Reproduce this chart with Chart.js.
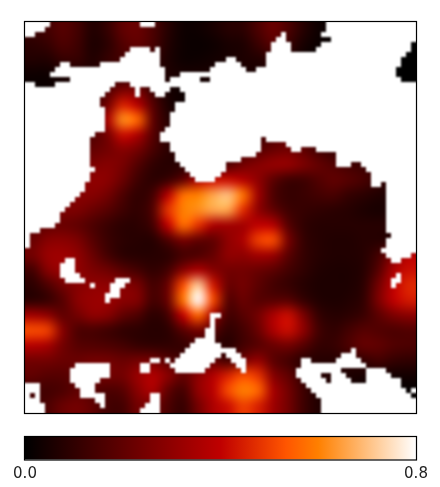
<!DOCTYPE html>
<html lang="en">

<head>
    <meta charset="UTF-8" />
    <title>Heatmap</title>
    <script src="https://cdn.jsdelivr.net/npm/chart.js"></script>
    <style>
        html, body { margin: 0; padding: 0; background: #fff; }
        canvas { position: absolute; left: 0; }
        #heat { top: 0; }
        #bar { top: 425px; }
    </style>
</head>

<body>
    <canvas id="heat" width="440" height="425"></canvas>
    <canvas id="bar" width="440" height="62"></canvas>

    <script>
        // values, 26 x 26, top row first
        var row00 = [.12,.14,.18,.14,.07,.11,.20,.22,.16,.08,.03,.03,.05,.08,.09,.16,.22,.16,.08,.03,.02,.02,.02,0,0,0];
        var row01 = [.09,.11,.16,.13,.06,.09,.17,.20,.15,.07,.03,.02,.03,.05,.06,.12,.18,.12,.05,.02,.01,.01,0,0,0,0];
        var row02 = [.07,.07,.11,.11,.07,.11,.14,.14,.11,.06,.03,.03,.04,.05,.06,.07,.09,.06,.03,.01,0,0,0,0,0,0];
        var row03 = [.03,.03,.05,.06,.07,.09,.11,.09,.07,.06,.05,.05,.05,.05,.05,.05,.05,.04,.02,.01,0,0,0,0,0,0];
        var row04 = [.02,.02,.04,.06,.10,.17,.25,.24,.12,.05,.03,.02,.03,.03,.03,.03,.03,.03,.02,.01,0,0,0,0,0,0];
        var row05 = [.03,.03,.04,.07,.13,.24,.45,.38,.18,.06,.03,.03,.03,.03,.03,.03,.03,.03,.03,.03,.03,.03,.03,.03,.03,.03];
        var row06 = [.06,.06,.06,.09,.15,.36,.62,.56,.20,.08,.05,.05,.06,.06,.06,.06,.07,.07,.06,.06,.06,.06,.06,.06,.06,.06];
        var row07 = [.12,.12,.12,.14,.17,.25,.42,.36,.18,.09,.07,.07,.07,.08,.10,.12,.16,.18,.16,.12,.10,.08,.07,.07,.07,.07];
        var row08 = [.18,.18,.18,.20,.21,.24,.28,.24,.15,.09,.09,.09,.10,.12,.15,.18,.22,.24,.20,.14,.11,.10,.08,.07,.07,.07];
        var row09 = [.24,.24,.24,.24,.26,.28,.25,.17,.10,.08,.09,.10,.13,.17,.24,.28,.31,.31,.26,.21,.17,.14,.12,.10,.08,.06];
        var row10 = [.24,.24,.24,.26,.30,.29,.22,.13,.09,.12,.20,.36,.42,.42,.38,.30,.19,.13,.13,.17,.20,.18,.15,.11,.07,.06];
        var row11 = [.24,.24,.24,.28,.28,.24,.16,.10,.14,.38,.57,.60,.66,.70,.58,.33,.16,.11,.12,.14,.15,.11,.09,.07,.06,.06];
        var row12 = [.24,.24,.26,.26,.22,.18,.13,.10,.17,.48,.60,.62,.66,.66,.47,.30,.20,.13,.11,.10,.09,.08,.06,.05,.06,.06];
        var row13 = [.18,.21,.22,.20,.16,.12,.09,.09,.14,.40,.57,.48,.36,.34,.34,.40,.38,.18,.10,.08,.08,.08,.08,.08,.08,.08];
        var row14 = [.22,.28,.29,.26,.18,.12,.09,.08,.08,.16,.25,.20,.20,.30,.36,.50,.52,.25,.11,.08,.07,.07,.08,.08,.08,.14];
        var row15 = [.24,.32,.33,.30,.22,.14,.09,.08,.08,.09,.14,.16,.21,.30,.30,.34,.32,.19,.11,.08,.07,.07,.08,.14,.27,.38];
        var row16 = [.14,.28,.32,.30,.26,.23,.18,.14,.10,.14,.28,.36,.28,.24,.24,.22,.19,.14,.10,.07,.06,.06,.08,.18,.36,.42];
        var row17 = [.09,.16,.24,.28,.30,.30,.28,.25,.14,.22,.52,.72,.44,.22,.24,.19,.14,.11,.08,.06,.06,.06,.09,.24,.40,.46];
        var row18 = [.09,.11,.18,.29,.32,.32,.29,.27,.14,.22,.58,.80,.52,.18,.22,.18,.18,.18,.11,.07,.06,.07,.10,.26,.40,.44];
        var row19 = [.34,.30,.20,.24,.30,.28,.20,.16,.09,.14,.40,.56,.34,.14,.18,.24,.36,.42,.26,.11,.08,.09,.12,.19,.26,.29];
        var row20 = [.52,.50,.28,.16,.15,.13,.10,.09,.08,.09,.18,.24,.18,.10,.14,.22,.36,.42,.30,.14,.10,.14,.18,.17,.16,.17];
        var row21 = [.38,.35,.24,.18,.17,.16,.14,.11,.10,.10,.11,.14,.11,.08,.14,.18,.22,.24,.18,.11,.11,.16,.21,.20,.17,.16];
        var row22 = [.24,.24,.22,.22,.24,.24,.22,.24,.24,.18,.14,.14,.20,.14,.24,.31,.19,.14,.09,.08,.08,.09,.11,.14,.11,.10];
        var row23 = [.20,.18,.18,.20,.24,.24,.24,.32,.37,.29,.20,.29,.37,.45,.52,.48,.28,.20,.11,.08,.07,.06,.05,.05,.04,.04];
        var row24 = [.14,.14,.16,.20,.18,.16,.18,.29,.36,.20,.14,.30,.39,.52,.60,.56,.35,.24,.13,.07,.06,.05,.03,.02,.01,.01];
        var row25 = [.14,.16,.22,.24,.20,.14,.14,.24,.24,.16,.11,.24,.36,.42,.50,.45,.33,.24,.13,.07,.06,.05,.03,.02,.01,.01];
        var heatRows = [row00, row01, row02, row03, row04, row05, row06, row07, row08, row09, row10, row11, row12,
            row13, row14, row15, row16, row17, row18, row19, row20, row21, row22, row23, row24, row25];

        // blank (no data) cells on a 78 x 78 grid, [row, from, to)
        var blankCells = [
            [0,0,5],[0,23,26],[0,60,78],[1,0,4],[1,60,78],[2,0,2],[2,51,52],[2,59,78],[3,50,52],[3,61,78],
            [4,49,53],[4,59,77],[5,21,25],[5,26,27],[5,49,53],[5,58,77],[6,20,27],[6,48,76],
            [7,19,27],[7,40,42],[7,48,75],[8,7,9],[8,15,27],[8,38,43],[8,48,75],
            [9,6,28],[9,37,44],[9,46,74],[10,5,28],[10,31,74],[11,9,28],[11,29,35],[11,37,75],
            [12,0,2],[12,6,18],[12,21,78],[13,0,17],[13,22,23],[13,25,29],[13,31,78],
            [14,0,16],[14,22,23],[14,26,28],[14,32,78],[15,0,15],[15,32,78],[16,0,15],[16,30,78],
            [17,0,16],[17,30,78],[18,0,16],[18,29,78],[19,0,16],[19,29,78],[20,0,16],[20,29,78],
            [21,0,16],[21,28,78],[22,0,14],[22,27,78],[23,0,13],[23,27,47],[23,48,78],
            [24,0,13],[24,29,47],[24,52,78],[25,0,13],[25,29,47],[25,53,55],[25,58,78],
            [26,0,13],[26,30,46],[26,62,78],[27,0,13],[27,30,43],[27,62,78],
            [28,0,13],[28,31,40],[28,62,65],[28,67,78],[29,0,14],[29,32,40],[29,68,78],
            [30,0,13],[30,33,39],[30,69,78],[31,0,13],[31,34,38],[31,69,78],
            [32,0,12],[32,69,71],[32,72,78],[33,0,12],[33,72,78],[34,0,11],[34,72,78],
            [35,0,10],[35,72,78],[36,0,9],[36,72,78],[37,0,8],[37,72,78],[38,0,7],[38,72,78],
            [39,0,7],[39,72,78],[40,0,6],[40,72,78],[41,0,3],[41,72,78],[42,0,1],[42,73,78],
            [43,0,1],[43,72,78],[44,0,1],[44,72,78],[45,71,78],[46,72,77],[47,73,75],[47,8,10],
            [48,7,10],[49,7,10],[50,7,11],[50,74,75],[51,8,12],[51,18,21],[51,73,75],
            [52,13,14],[52,17,20],[52,73,74],[53,17,19],[54,16,19],[55,16,17],
            [58,37,39],[59,37,38],[60,37,38],[61,36,38],[62,36,38],[63,34,38],[64,33,39],
            [65,32,42],[65,65,66],[66,31,39],[66,40,43],[66,63,66],
            [67,25,27],[67,28,29],[67,30,38],[67,41,44],[67,55,57],[67,62,67],
            [68,10,17],[68,23,25],[68,29,37],[68,42,44],[68,55,68],
            [69,9,17],[69,23,25],[69,30,36],[69,43,44],[69,54,63],[69,68,72],
            [70,9,17],[70,54,59],[70,61,64],[70,68,73],[71,9,15],[71,55,60],[71,61,65],[71,68,75],
            [72,0,3],[72,10,14],[72,56,75],[73,0,3],[73,11,14],[73,57,76],[73,77,78],
            [74,0,1],[74,2,3],[74,11,16],[74,25,27],[74,58,77],
            [75,0,3],[75,14,16],[75,25,27],[75,59,78],[76,0,4],[76,15,16],[76,24,27],[76,59,78],
            [77,0,4],[77,23,27],[77,59,78]
        ];

        var maskSize = 78;
        var colorbarMax = [0.8];
        var colorbarTicks = [0, 0.8];

        // colour map stops: position, r, g, b
        var cmapPos = [0, 0.5, 0.667, 0.75, 1];
        var cmapRgb = [[0, 0, 0], [191, 0, 0], [255, 85, 0], [255, 128, 0], [255, 255, 255]];

        function corDoValor(v) {
            var t = Math.min(Math.max(v / colorbarMax[0], 0), 1);
            for (var i = 1; i < cmapPos.length; i++) {
                if (t <= cmapPos[i]) {
                    var f = (t - cmapPos[i - 1]) / (cmapPos[i] - cmapPos[i - 1]);
                    var a = cmapRgb[i - 1], b = cmapRgb[i];
                    return `rgb(${a[0] + (b[0] - a[0]) * f}, ${a[1] + (b[1] - a[1]) * f}, ${a[2] + (b[2] - a[2]) * f})`;
                }
            }
            return "rgb(255, 255, 255)";
        }

        var nRows = heatRows.length;
        var nCols = heatRows[0].length;
        var heatPoints = [];
        heatRows.forEach(function (linha, r) {
            linha.forEach(function (v, c) {
                heatPoints.push({ x: c + 0.5, y: r + 0.5, v: v });
            });
        });

        // paints the cells (smoothed, like imshow) and the blank mask through the scales
        var heatPlugin = {
            id: "heatPlugin",
            beforeDatasetsDraw: function (chart) {
                var ctx = chart.ctx;
                var x = chart.scales.x, y = chart.scales.y;
                var area = chart.chartArea;
                var off = document.createElement("canvas");
                off.width = nCols;
                off.height = nRows;
                var oc = off.getContext("2d");
                chart.data.datasets[0].data.forEach(function (p) {
                    oc.fillStyle = corDoValor(p.v);
                    oc.fillRect(p.x - 0.5, p.y - 0.5, 1, 1);
                });
                ctx.save();
                ctx.beginPath();
                ctx.rect(area.left, area.top, area.width, area.height);
                ctx.clip();
                ctx.imageSmoothingEnabled = true;
                ctx.imageSmoothingQuality = "high";
                ctx.drawImage(off, x.getPixelForValue(0), y.getPixelForValue(0),
                    x.getPixelForValue(nCols) - x.getPixelForValue(0),
                    y.getPixelForValue(nRows) - y.getPixelForValue(0));

                // mask goes on its own layer so the soft edge is applied once
                var k = nCols / maskSize;
                var mask = document.createElement("canvas");
                mask.width = chart.width;
                mask.height = chart.height;
                var mc = mask.getContext("2d");
                mc.fillStyle = "#ffffff";
                blankCells.forEach(function (s) {
                    var x0 = Math.round(x.getPixelForValue(s[1] * k)), x1 = Math.round(x.getPixelForValue(s[2] * k));
                    var y0 = Math.round(y.getPixelForValue(s[0] * k)), y1 = Math.round(y.getPixelForValue((s[0] + 1) * k));
                    if (s[1] === 0) x0 -= 4;
                    if (s[2] === maskSize) x1 += 4;
                    if (s[0] === 0) y0 -= 4;
                    if (s[0] === maskSize - 1) y1 += 4;
                    mc.fillRect(x0, y0, x1 - x0, y1 - y0);
                });
                ctx.filter = "blur(0.8px)";
                ctx.drawImage(mask, 0, 0);
                ctx.restore();
            }
        };

        var framePlugin = {
            id: "framePlugin",
            afterDraw: function (chart) {
                var a = chart.chartArea;
                var ctx = chart.ctx;
                ctx.save();
                ctx.strokeStyle = "#000000";
                ctx.lineWidth = 1.2;
                ctx.strokeRect(a.left - 0.5, a.top - 0.5, a.width + 1, a.height + 1);
                ctx.restore();
            }
        };

        new Chart(document.getElementById("heat"), {
            type: "scatter",
            data: { datasets: [{ data: heatPoints, pointRadius: 0, pointHoverRadius: 0 }] },
            options: {
                responsive: false,
                animation: false,
                layout: { padding: { left: 25, right: 24, top: 22, bottom: 12 } },
                plugins: { legend: { display: false }, tooltip: { enabled: false } },
                scales: {
                    x: { type: "linear", min: 0, max: nCols, display: false },
                    y: { type: "linear", min: 0, max: nRows, reverse: true, display: false }
                }
            },
            plugins: [heatPlugin, framePlugin]
        });

        var barCanvas = document.getElementById("bar");
        new Chart(barCanvas, {
            type: "bar",
            data: {
                labels: [""],
                datasets: [{
                    data: colorbarMax,
                    barPercentage: 1,
                    categoryPercentage: 1,
                    backgroundColor: function (context) {
                        var area = context.chart.chartArea;
                        if (!area) return "#000";
                        var g = context.chart.ctx.createLinearGradient(area.left, 0, area.right, 0);
                        cmapPos.forEach(function (p) {
                            g.addColorStop(p, corDoValor(p * colorbarMax[0]));
                        });
                        return g;
                    }
                }]
            },
            options: {
                indexAxis: "y",
                responsive: false,
                animation: false,
                layout: { padding: { left: 25, right: 24, top: 12, bottom: 5 } },
                plugins: { legend: { display: false }, tooltip: { enabled: false } },
                scales: {
                    x: {
                        type: "linear",
                        min: 0,
                        max: colorbarMax[0],
                        afterBuildTicks: function (axis) {
                            axis.ticks = colorbarTicks.map(function (v) { return { value: v }; });
                        },
                        grid: { display: false, drawTicks: false },
                        border: { display: false },
                        ticks: {
                            autoSkip: false,
                            maxRotation: 0,
                            padding: 6,
                            color: "#222222",
                            font: { family: "DejaVu Sans", size: 15 },
                            callback: function (v) { return Number(v).toFixed(1); }
                        }
                    },
                    y: { display: false }
                }
            },
            plugins: [framePlugin]
        });
    </script>
</body>

</html>
